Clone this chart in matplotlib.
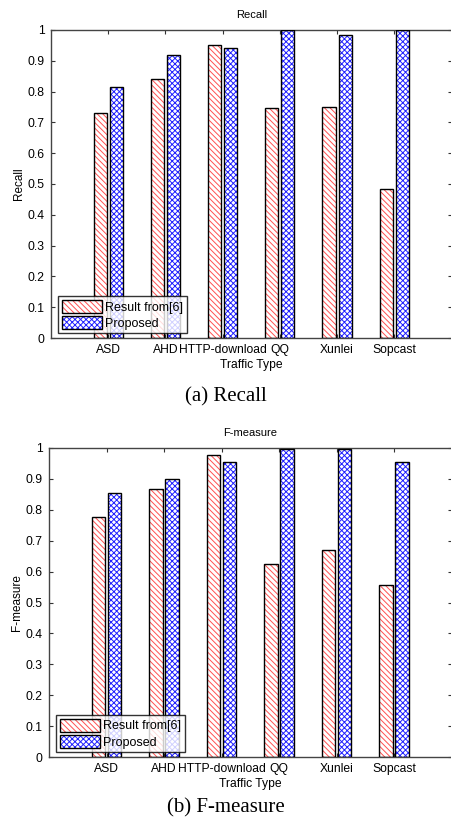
import matplotlib
matplotlib.use("Agg")
import matplotlib.pyplot as plt
import numpy as np

categories = ["ASD", "AHD", "HTTP-download", "QQ", "Xunlei", "Sopcast"]
series_names = ["Result from[6]", "Proposed"]
recall_prev = [0.73, 0.84, 0.95, 0.747, 0.75, 0.485]
recall_prop = [0.815, 0.918, 0.943, 1.0, 0.985, 1.0]
fmeas_prev = [0.776, 0.868, 0.977, 0.624, 0.67, 0.557]
fmeas_prop = [0.853, 0.90, 0.956, 0.997, 0.997, 0.954]
yticks = [0, 0.1, 0.2, 0.3, 0.4, 0.5, 0.6, 0.7, 0.8, 0.9, 1]
ytick_labels = ["0", "0.1", "0.2", "0.3", "0.4", "0.5", "0.6", "0.7", "0.8", "0.9", "1"]

plt.rcParams['font.family'] = ['Liberation Sans', 'DejaVu Sans']
plt.rcParams['hatch.linewidth'] = 0.7

W, H = 451, 826
fig = plt.figure(figsize=(W / 100, H / 100), dpi=100)


def panel(rect, title, ylabel, prev, prop, caption, cap_y):
    ax = fig.add_axes(rect)
    x = np.arange(1, len(categories) + 1)
    bw = 0.23
    off = 0.14
    h1 = ax.bar(x - off, prev, bw, facecolor="white", edgecolor="#ff5050",
                hatch="\\\\\\\\\\\\", linewidth=0, zorder=2)
    e1 = ax.bar(x - off, prev, bw, fill=False, edgecolor="black",
                linewidth=1.0, zorder=3)
    h2 = ax.bar(x + off, prop, bw, facecolor="white", edgecolor="#2020ff",
                hatch="xxxxxx", linewidth=0, zorder=2)
    e2 = ax.bar(x + off, prop, bw, fill=False, edgecolor="black",
                linewidth=1.0, zorder=3)
    ax.set_xlim(0, 7)
    ax.set_ylim(0, 1)
    ax.set_xticks(x)
    ax.set_xticklabels(categories, fontsize=8.7)
    ax.set_yticks(yticks)
    ax.set_yticklabels(ytick_labels, fontsize=8.7)
    ax.tick_params(direction="in", length=3, width=0.8, top=True, right=True,
                   colors="#333333", labelcolor="black", pad=4.5)
    for s in ax.spines.values():
        s.set_color("#444444")
        s.set_linewidth(1.0)
    ax.set_title(title, fontsize=8, pad=9)
    ax.set_ylabel(ylabel, fontsize=8.5, labelpad=2)
    ax.set_xlabel("Traffic Type", fontsize=8.7, labelpad=2)
    leg = ax.legend([(h1[0], e1[0]), (h2[0], e2[0])], series_names,
                    loc="lower left", bbox_to_anchor=(0.017, 0.015),
                    fontsize=9, frameon=True, fancybox=False,
                    edgecolor="black", handlelength=3.2, handleheight=1.2,
                    borderpad=0.3, labelspacing=0.2, handletextpad=0.3,
                    borderaxespad=0)
    leg.get_frame().set_linewidth(1.0)
    leg.set_zorder(5)
    fig.text(0.5, cap_y, caption, ha="center", va="center",
             fontsize=15, family=["Liberation Serif", "DejaVu Serif"])
    return ax


# pixel geometry
l = 51 / W
r = 451.5 / W
panel([l, 1 - 338 / H, r - l, (338 - 30) / H], "Recall", "Recall",
      recall_prev, recall_prop, "(a) Recall", 1 - 397 / H)
l2 = 49 / W
panel([l2, 1 - 757 / H, r - l2, (757 - 448) / H], "F-measure", "F-measure",
      fmeas_prev, fmeas_prop, "(b) F-measure", 1 - 808 / H)

fig.savefig("out.png", dpi=100)
